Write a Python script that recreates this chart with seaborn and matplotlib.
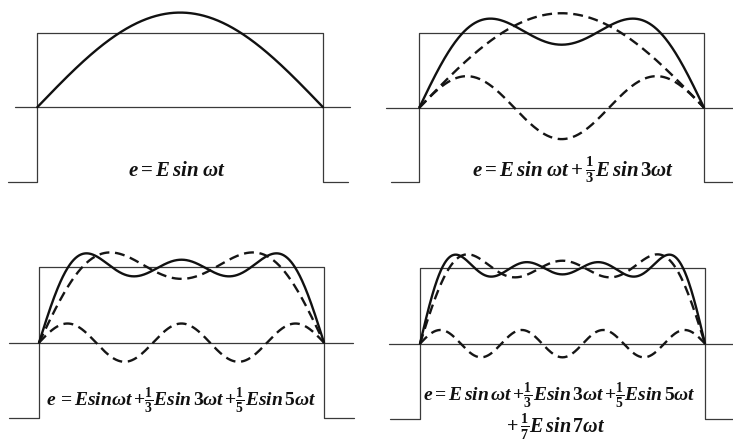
import numpy as np
import pandas as pd
import matplotlib
matplotlib.use("Agg")
import matplotlib.pyplot as plt
import seaborn as sns

# ---- data ----
harmonics = [1, 3, 5, 7]                 # odd harmonics added panel by panel
coefficients = [1, 1/3, 1/5, 1/7]        # relative amplitudes (from the labels)
E_amplitude = 1.27                       # fundamental peak / square-wave height
square_level = 1.0                       # square-wave height
labels = [
    [r"$e = E\,sin\;\omega t$"],
    [r"$e = E\,sin\;\omega t + \frac{1}{3}E\,sin\,3\omega t$"],
    [r"$e\,{=}Esin\omega t\,{+}\frac{1}{3}Esin\,3\omega t\,{+}\frac{1}{5}Esin\,5\omega t$"],
    [r"$e{=}E\,sin\,\omega t\,{+}\frac{1}{3}Esin\,3\omega t\,{+}\frac{1}{5}Esin\,5\omega t$",
     r"$+\,\frac{1}{7}E\,sin\,7\omega t$"],
]

sns.set_style("white")
plt.rcParams.update({
    "mathtext.fontset": "custom",
    "mathtext.it": "Liberation Serif:italic:bold",
    "mathtext.rm": "Liberation Serif:bold",
    "mathtext.bf": "Liberation Serif:italic:bold",
    "mathtext.sf": "Liberation Serif:italic:bold",
})

W, H = 733, 442
fig = plt.figure(figsize=(W / 100, H / 100), dpi=100)
fig.patch.set_facecolor("white")

# layout in pixels: (x at phase 0, x at phase pi, y at +1, y at -1), panel box,
# axis-line extent and low-segment extent (pixels), label anchors (one per line)
layout = [
    dict(c=(37.3, 323.0, 32.7, 181.7), box=(0, 0, 366, 221), axis=(15, 350), low=(8, 348),
         txt=[(176.5, 176, 15)]),
    dict(c=(419.3, 704.0, 33.3, 182.0), box=(366, 0, 733, 221), axis=(386, 733), low=(391, 733),
         txt=[(573.5, 177, 15)]),
    dict(c=(39.0, 324.0, 267.3, 418.0), box=(0, 221, 366, 442), axis=(9, 353), low=(9, 354),
         txt=[(181.5, 407, 14)]),
    dict(c=(420.0, 705.0, 268.3, 419.0), box=(366, 221, 733, 442), axis=(389, 733), low=(390, 733),
         txt=[(559, 402, 14), (556, 434, 14.5)]),
]

phase = np.linspace(0, np.pi, 600)
thin = dict(color="#3a3a3a", linewidth=0.9, estimator=None, sort=False)
dash = dict(color="#151515", linewidth=1.7, linestyle=(0, (4.2, 2.4)), estimator=None, sort=False)
solid = dict(color="#111111", linewidth=1.7, estimator=None, sort=False)


def partial_sum(n):
    return sum(E_amplitude * c * np.sin(h * phase) for h, c in zip(harmonics[:n], coefficients[:n]))


for i, lay in enumerate(layout):
    px0, pxpi, ptop, pbot = lay["c"]
    L, T, R, B = lay["box"]
    sx = (pxpi - px0) / np.pi
    sy = (pbot - ptop) / 2.0
    py0 = (ptop + pbot) / 2.0
    ax = fig.add_axes([L / W, 1 - B / H, (R - L) / W, (B - T) / H])
    ax.set_xlim((L - px0) / sx, (R - px0) / sx)
    ax.set_ylim((py0 - B) / sy, (py0 - T) / sy)
    ax.set_axis_off()

    to_x = lambda p: (p - px0) / sx
    # square wave
    xl, xr = to_x(lay["low"][0]), to_x(lay["low"][1])
    sq = pd.DataFrame({
        "x": [xl, 0, 0, np.pi, np.pi, xr],
        "y": [-square_level, -square_level, square_level, square_level, -square_level, -square_level],
    })
    sns.lineplot(data=sq, x="x", y="y", ax=ax, **thin)
    # zero axis
    ax_line = pd.DataFrame({"x": [to_x(lay["axis"][0]), to_x(lay["axis"][1])], "y": [0, 0]})
    sns.lineplot(data=ax_line, x="x", y="y", ax=ax, **thin)

    n = i + 1
    if n > 1:
        prev = partial_sum(n - 1)
        term = E_amplitude * coefficients[n - 1] * np.sin(harmonics[n - 1] * phase)
        sns.lineplot(x=phase, y=prev, ax=ax, **dash)
        sns.lineplot(x=phase, y=term, ax=ax, **dash)
    sns.lineplot(x=phase, y=partial_sum(n), ax=ax, **solid)

    for (tx, ty, fs), s in zip(lay["txt"], labels[i]):
        fig.text(tx / W, 1 - ty / H, s, ha="center", va="baseline",
                 fontsize=fs, color="#111111")

fig.savefig("out.png", dpi=100, facecolor="white")
